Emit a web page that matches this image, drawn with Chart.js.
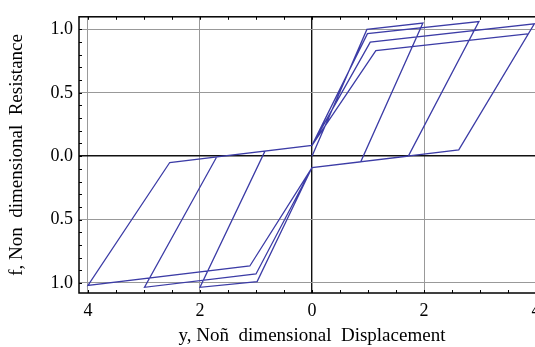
<!DOCTYPE html>
<html>
<head>
<meta charset="utf-8">
<script src="https://cdn.jsdelivr.net/npm/chart.js@4"></script>
<style>
  html, body { margin: 0; padding: 0; background: #fff; overflow: hidden; }
  #wrap { width: 550px; height: 347px; }
</style>
</head>
<body>
<div id="wrap"><canvas id="loopChart" width="550" height="347"></canvas></div>
<script>
// Hysteresis path, in the order it is traced
var displacement = [0, 0.98, 1.98, 0.87, 0, -0.98, -2.0, -0.84, 0, 0.99, 2.98, 1.72, 0,
    -1.0, -2.99, -1.70, 0, 1.04, 3.97, 2.62, 0, -1.11, -4.0, -2.54, 0, 1.14, 3.85];
var resistance = [0, 1.0, 1.05, -0.045, -0.09, -0.99, -1.035, 0.04, 0.085, 0.967, 1.063, 0.0, -0.09,
    -0.93, -1.035, -0.005, 0.085, 0.90, 1.045, 0.05, -0.09, -0.867, -1.02, -0.05, 0.085, 0.833, 0.965];

// Tick values and the labels as printed (the minus signs are missing in the original)
var xTicks = [-4, -2, 0, 2, 4];
var xTickLabels = ['4', '2', '0', '2', '4'];
var yTicks = [-1, -0.5, 0, 0.5, 1];
var yTickLabels = ['1.0', '0.5', '0.0', '0.5', '1.0'];

var serif = "'Liberation Serif', 'DejaVu Serif', serif";

// Frame with small inward ticks, like the Mathematica plot
var framePlugin = {
    id: 'frame',
    afterDraw: function(chart) {
        var ctx = chart.ctx;
        var a = chart.chartArea;
        var xs = chart.scales.x, ys = chart.scales.y;
        ctx.save();
        ctx.strokeStyle = '#000';
        ctx.lineWidth = 1;
        for (var v = -4; v <= 4.001; v += 0.5) {
            var px = Math.round(xs.getPixelForValue(v)) + 0.5;
            ctx.beginPath();
            ctx.moveTo(px, a.top); ctx.lineTo(px, a.top + 3);
            ctx.moveTo(px, a.bottom); ctx.lineTo(px, a.bottom - 3);
            ctx.stroke();
        }
        for (var w = -10; w <= 10; w++) {
            var py = Math.round(ys.getPixelForValue(w / 10)) + 0.5;
            ctx.beginPath();
            ctx.moveTo(a.left, py); ctx.lineTo(a.left + 3, py);
            ctx.moveTo(a.right, py); ctx.lineTo(a.right - 3, py);
            ctx.stroke();
        }
        ctx.lineWidth = 1.5;
        ctx.strokeRect(a.left, a.top, a.right - a.left, a.bottom - a.top);
        ctx.restore();
    }
};

new Chart(document.getElementById('loopChart').getContext('2d'), {
    type: 'scatter',
    data: {
        datasets: [{
            data: displacement.map(function(d, i) { return { x: d, y: resistance[i] }; }),
            showLine: true,
            borderColor: '#3c3ca6',
            borderWidth: 1.3,
            pointRadius: 0,
            tension: 0,
            fill: false
        }]
    },
    options: {
        responsive: false,
        animation: false,
        devicePixelRatio: 1,
        layout: { padding: { top: 13, right: 5, left: 0, bottom: 0 } },
        plugins: { legend: { display: false }, tooltip: { enabled: false } },
        scales: {
            x: {
                type: 'linear',
                min: -4.16,
                max: 4.16,
                afterBuildTicks: function(scale) {
                    scale.ticks = xTicks.map(function(v) { return { value: v }; });
                },
                afterFit: function(scale) { scale.height = 54; },
                border: { display: false },
                grid: {
                    drawTicks: false,
                    color: function(c) { return c.tick && c.tick.value === 0 ? '#111' : '#999'; },
                    lineWidth: function(c) { return c.tick && c.tick.value === 0 ? 1.4 : 1; }
                },
                ticks: {
                    padding: 7,
                    color: '#000',
                    font: { family: serif, size: 18 },
                    callback: function(v) { return xTickLabels[xTicks.indexOf(v)]; }
                },
                title: {
                    display: true,
                    text: 'y, Noñ  dimensional  Displacement',
                    color: '#000',
                    font: { family: serif, size: 19 },
                    padding: { top: 0, bottom: 0 }
                }
            },
            y: {
                type: 'linear',
                min: -1.08,
                max: 1.10,
                afterBuildTicks: function(scale) {
                    scale.ticks = yTicks.map(function(v) { return { value: v }; });
                },
                afterFit: function(scale) { scale.width = 79; },
                border: { display: false },
                grid: {
                    drawTicks: false,
                    color: function(c) { return c.tick && c.tick.value === 0 ? '#111' : '#999'; },
                    lineWidth: function(c) { return c.tick && c.tick.value === 0 ? 1.4 : 1; }
                },
                ticks: {
                    padding: 6,
                    color: '#000',
                    font: { family: serif, size: 18 },
                    callback: function(v) { return yTickLabels[yTicks.indexOf(v)]; }
                },
                title: {
                    display: true,
                    text: 'f, Non  dimensional  Resistance',
                    color: '#000',
                    font: { family: serif, size: 19 },
                    padding: { top: 6, bottom: 0 }
                }
            }
        }
    },
    plugins: [framePlugin]
});
</script>
</body>
</html>
